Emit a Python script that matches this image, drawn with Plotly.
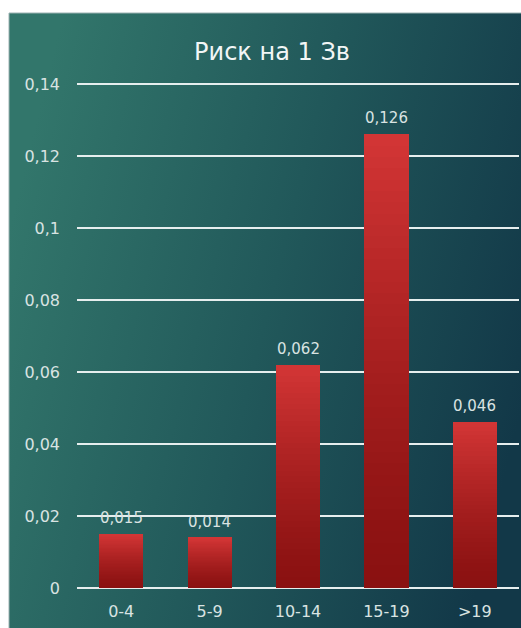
import base64
import plotly.graph_objects as go

# Risk per 1 Sv by age group at exposure
age_groups = ["0-4", "5-9", "10-14", "15-19", ">19"]
risk_values = [0.015, 0.014, 0.062, 0.126, 0.046]
value_labels = ["0,015", "0,014", "0,062", "0,126", "0,046"]
y_tick_vals = [0, 0.02, 0.04, 0.06, 0.08, 0.10, 0.12, 0.14]
y_tick_text = ["0", "0,02", "0,04", "0,06", "0,08", "0,1", "0,12", "0,14"]
title_text = "Риск на 1 Зв"

W, H = 521, 628
L, R, T, B = 77, 2, 80, 40
Y_MAX = 0.1411
FONT = "DejaVu Sans"
TEXT_COLOR = "#d9e3e2"


def lerp_color(c1, c2, t):
    a = [int(c1[i:i + 2], 16) for i in (1, 3, 5)]
    b = [int(c2[i:i + 2], 16) for i in (1, 3, 5)]
    return "rgb(%d,%d,%d)" % tuple(round(a[k] + (b[k] - a[k]) * t) for k in range(3))


fig = go.Figure()

# Bars built from stacked slices so each bar shades from dark red at the base
# to a brighter red at the top.
N_SLICES = 40
bottom_red, top_red = "#8a1111", "#d23535"
for i in range(N_SLICES):
    t = i / (N_SLICES - 1)
    fig.add_trace(go.Bar(
        x=age_groups,
        y=[v / N_SLICES for v in risk_values],
        marker=dict(color=lerp_color(bottom_red, top_red, t ** 1.3), line=dict(width=0)),
        hoverinfo="skip",
        showlegend=False,
    ))

# Value labels above the bars
for cat, v, lab in zip(age_groups, risk_values, value_labels):
    fig.add_annotation(
        x=cat, y=v, text=lab, showarrow=False, yanchor="bottom", yshift=5,
        font=dict(family=FONT, size=15, color=TEXT_COLOR),
    )

# Panel background: teal to dark blue-green gradient
svg = (
    '<svg xmlns="http://www.w3.org/2000/svg" width="512" height="615" '
    'preserveAspectRatio="none">'
    '<defs><linearGradient id="g" x1="0" y1="0.35" x2="1" y2="0.65">'
    '<stop offset="0" stop-color="#32766b"/>'
    '<stop offset="0.5" stop-color="#21585a"/>'
    '<stop offset="1" stop-color="#123848"/>'
    '</linearGradient></defs>'
    '<rect width="512" height="615" fill="url(#g)"/></svg>'
)
svg_uri = "data:image/svg+xml;base64," + base64.b64encode(svg.encode()).decode()

pw, ph = W - L - R, H - T - B
px0, py0 = 9, 13
x0 = (px0 - L) / pw
y1 = 1 + (T - py0) / ph
fig.add_layout_image(
    source=svg_uri, xref="paper", yref="paper", x=x0, y=y1,
    sizex=(W - px0) / pw, sizey=(H - py0) / ph,
    xanchor="left", yanchor="top", sizing="stretch", layer="below",
)
fig.add_shape(
    type="rect", xref="paper", yref="paper",
    x0=x0, x1=x0 + (W - px0) / pw + 0.01, y0=-0.2, y1=y1,
    line=dict(color="#9cb2b2", width=1), fillcolor="rgba(0,0,0,0)", layer="below",
)

fig.update_layout(
    width=W, height=H,
    margin=dict(l=L, r=R, t=T, b=B),
    paper_bgcolor="white",
    plot_bgcolor="rgba(0,0,0,0)",
    barmode="stack",
    bargap=0.5,
    showlegend=False,
    title=dict(
        text=title_text, x=(272 - L) / pw, xref="paper", xanchor="center",
        y=1 - 52 / H, yanchor="middle",
        font=dict(family=FONT, size=24, color="#f2f6f6"),
    ),
    xaxis=dict(
        showgrid=False, showline=False, ticks="", zeroline=False,
        tickfont=dict(family=FONT, size=16, color=TEXT_COLOR),
        ticklabelstandoff=12,
    ),
    yaxis=dict(
        range=[0, Y_MAX], tickvals=y_tick_vals, ticktext=y_tick_text,
        showgrid=True, gridcolor="#e6eeee", gridwidth=1.5,
        zeroline=True, zerolinecolor="#e6eeee", zerolinewidth=1.5,
        showline=False, ticks="",
        tickfont=dict(family=FONT, size=16, color=TEXT_COLOR),
        ticklabelstandoff=16,
    ),
)

fig.write_html("out.html")
